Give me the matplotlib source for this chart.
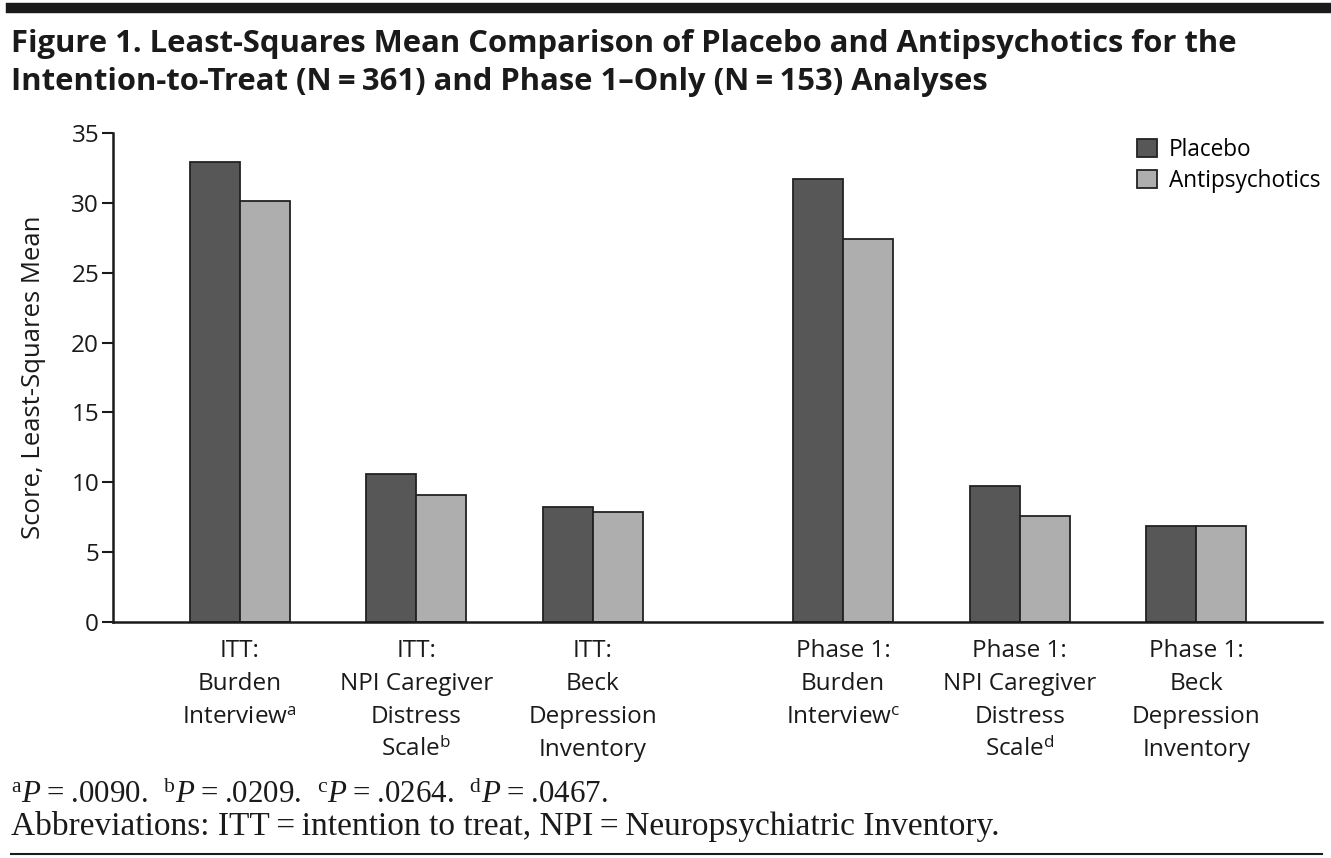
import matplotlib.pyplot as plt
import numpy as np

plt.rcParams['font.family'] = ['Open Sans', 'DejaVu Sans']
plt.rcParams['mathtext.fontset'] = 'custom'
plt.rcParams['mathtext.rm'] = 'Liberation Serif'
plt.rcParams['mathtext.it'] = 'Liberation Serif:italic'
plt.rcParams['mathtext.sf'] = 'Open Sans'

# values
labels = ["ITT:\nBurden\nInterview$^{\\mathsf{a}}$",
          "ITT:\nNPI Caregiver\nDistress\nScale$^{\\mathsf{b}}$",
          "ITT:\nBeck\nDepression\nInventory",
          "Phase 1:\nBurden\nInterview$^{\\mathsf{c}}$",
          "Phase 1:\nNPI Caregiver\nDistress\nScale$^{\\mathsf{d}}$",
          "Phase 1:\nBeck\nDepression\nInventory"]
placebo = [32.9, 10.6, 8.2, 31.7, 9.7, 6.9]
antipsychotics = [30.1, 9.1, 7.9, 27.4, 7.6, 6.9]
series_names = ["Placebo", "Antipsychotics"]
yticks = [0, 5, 10, 15, 20, 25, 30, 35]

# two blocks of three groups, with a wider gap between ITT and Phase 1
x = np.r_[np.arange(3), np.arange(3) + 3.416]
w = 0.283
edge = '#222222'
ink = '#1a1a1a'

fig = plt.figure(figsize=(13.31, 8.58), dpi=100)
ax = fig.add_axes([113/1331, 236/858, (1322-113)/1331, 489/858])

ax.bar(x - w/2, placebo, w, color='#575757', edgecolor=edge, linewidth=1.3, label=series_names[0])
ax.bar(x + w/2, antipsychotics, w, color='#aeaeae', edgecolor=edge, linewidth=1.3, label=series_names[1])

ax.set_ylim(0, 35)
ax.set_xlim(-0.717, 6.128)
ax.set_yticks(yticks)
ax.set_xticks(x)
ax.set_xticklabels(labels, fontsize=17.5, linespacing=1.5, color=ink)
ax.tick_params(axis='x', length=0, pad=12)
ax.tick_params(axis='y', length=8, width=1.5, labelsize=17.5, pad=2, colors=ink)
for s in ['top', 'right']:
    ax.spines[s].set_visible(False)
for s in ['left', 'bottom']:
    ax.spines[s].set_linewidth(1.8)
    ax.spines[s].set_color(ink)
ax.set_ylabel("Score, Least-Squares Mean", fontsize=18.5, labelpad=18, color=ink)

ax.legend(loc='upper right', bbox_to_anchor=(1.01, 1.018), frameon=False, fontsize=16.3,
          handlelength=0.85, handleheight=0.85, handletextpad=0.55, labelspacing=0.3,
          borderaxespad=0.2)

# header rule and title
fig.add_artist(plt.Line2D([11/1331, 1], [1 - 8/858, 1 - 8/858], color=ink, lw=7.5))
fig.text(11/1331, 1 - 29/858,
         "Figure 1. Least-Squares Mean Comparison of Placebo and Antipsychotics for the\n"
         "Intention-to-Treat (N\u2009=\u2009361) and Phase 1\u2013Only (N\u2009=\u2009153) Analyses",
         fontsize=22.3, fontweight='bold', color=ink, linespacing=1.36,
         va='top', ha='left')

# footnotes
fig.text(11/1331, 1 - 803/858,
         "$^{\\mathrm{a}}\\mathit{P}$\u2009=\u2009.0090.  $^{\\mathrm{b}}\\mathit{P}$\u2009=\u2009.0209.  "
         "$^{\\mathrm{c}}\\mathit{P}$\u2009=\u2009.0264.  $^{\\mathrm{d}}\\mathit{P}$\u2009=\u2009.0467.",
         fontsize=22.3, family='Liberation Serif', color=ink, va='baseline')
fig.text(11/1331, 1 - 835/858,
         "Abbreviations: ITT\u2009=\u2009intention to treat, NPI\u2009=\u2009Neuropsychiatric Inventory.",
         fontsize=24, family='Liberation Serif', color=ink, va='baseline')
fig.add_artist(plt.Line2D([11/1331, 1322/1331], [1 - 854/858, 1 - 854/858], color=ink, lw=1.5))

fig.savefig("out.png", dpi=100)
